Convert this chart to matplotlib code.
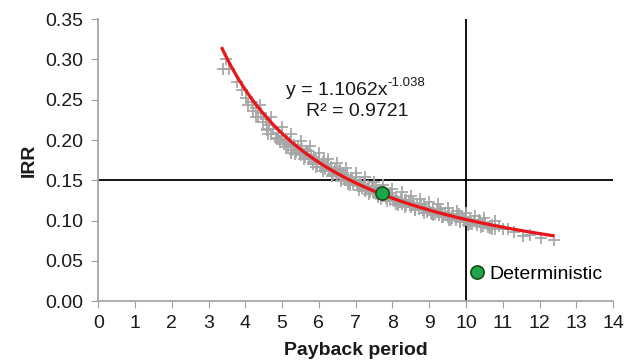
import matplotlib
matplotlib.use("Agg")
import matplotlib.pyplot as plt
import numpy as np

# Simulated runs: payback period (years) vs IRR
payback = [
    3.38, 3.55, 3.47, 3.78, 3.90, 4.02, 4.08, 4.18, 4.22, 4.30, 4.35, 4.42, 4.48, 4.55,
    4.58, 4.65, 4.70, 4.76, 4.82, 4.88, 4.93, 5.00, 5.05, 5.10, 5.16, 5.22, 5.27, 5.33,
    5.38, 5.44, 5.50, 5.55, 5.61, 5.66, 5.72, 5.78, 5.83, 5.88, 5.94, 6.00, 6.05, 6.11,
    6.16, 6.22, 6.27, 6.33, 6.38, 6.44, 6.50, 6.55, 6.61, 6.66, 6.72, 6.77, 6.83, 6.88,
    6.94, 7.00, 7.05, 7.11, 7.16, 7.22, 7.27, 7.33, 7.38, 7.44, 7.50, 7.55, 7.61, 7.66,
    7.72, 7.77, 7.83, 7.88, 7.94, 8.00, 8.05, 8.11, 8.16, 8.22, 8.27, 8.33, 8.38, 8.44,
    8.50, 8.55, 8.61, 8.66, 8.72, 8.77, 8.83, 8.88, 8.94, 9.00, 9.05, 9.11, 9.16, 9.22,
    9.27, 9.33, 9.38, 9.44, 9.50, 9.55, 9.61, 9.66, 9.72, 9.77, 9.83, 9.88, 9.94, 10.00,
    10.05, 10.11, 10.16, 10.22, 10.30, 10.38, 10.45, 10.52, 10.60, 10.70, 10.80, 10.90,
    11.00, 11.15, 11.30, 11.55, 11.75, 12.05, 12.40,
    4.62, 4.95, 5.25, 5.48, 5.70, 5.92, 6.14, 6.36, 6.58, 6.80, 7.02, 7.25, 7.48, 7.70,
    7.92, 8.15, 8.38, 8.60, 8.85, 9.08, 9.30, 9.55, 9.80, 10.05, 10.35, 10.65,
    4.40, 4.70, 5.00, 5.25, 5.50, 5.75, 6.00, 6.25, 6.50, 6.75, 7.00, 7.25, 7.50, 7.75,
    8.00, 8.25, 8.50, 8.75, 9.00, 9.25, 9.50, 9.75, 10.00, 10.25, 10.50, 10.80,
    4.30, 4.60, 4.85, 5.10, 5.35, 5.60, 5.85, 6.10, 6.35, 6.60, 6.85, 7.10, 7.35, 7.60,
    7.85, 8.10, 8.35, 8.60, 8.85, 9.10, 9.35, 9.60, 9.85, 10.10, 10.40, 10.70,
]
irr = [
    0.288, 0.288, 0.300, 0.272, 0.262, 0.252, 0.244, 0.247, 0.236, 0.240, 0.228, 0.233, 0.222, 0.226,
    0.214, 0.219, 0.208, 0.214, 0.203, 0.209, 0.199, 0.205, 0.195, 0.201, 0.192, 0.198, 0.188, 0.194,
    0.185, 0.192, 0.182, 0.189, 0.179, 0.186, 0.176, 0.182, 0.173, 0.179, 0.170, 0.176, 0.167, 0.173,
    0.164, 0.170, 0.161, 0.167, 0.158, 0.164, 0.156, 0.161, 0.153, 0.159, 0.150, 0.156, 0.148, 0.153,
    0.145, 0.151, 0.143, 0.148, 0.141, 0.146, 0.138, 0.143, 0.136, 0.141, 0.134, 0.139, 0.132, 0.137,
    0.130, 0.135, 0.128, 0.133, 0.126, 0.131, 0.124, 0.129, 0.122, 0.127, 0.121, 0.125, 0.119, 0.124,
    0.117, 0.122, 0.116, 0.120, 0.114, 0.119, 0.113, 0.117, 0.111, 0.116, 0.110, 0.114, 0.108, 0.113,
    0.107, 0.111, 0.105, 0.110, 0.104, 0.108, 0.103, 0.107, 0.101, 0.105, 0.100, 0.104, 0.099, 0.103,
    0.098, 0.101, 0.096, 0.100, 0.095, 0.098, 0.093, 0.097, 0.092, 0.095, 0.090, 0.093,
    0.089, 0.090, 0.086, 0.081, 0.082, 0.078, 0.076,
    0.208, 0.198, 0.184, 0.184, 0.186, 0.166, 0.175, 0.155, 0.163, 0.145, 0.154, 0.137, 0.142, 0.127,
    0.134, 0.119, 0.126, 0.113, 0.120, 0.108, 0.114, 0.101, 0.108, 0.095, 0.101, 0.091,
    0.243, 0.228, 0.216, 0.207, 0.199, 0.192, 0.184, 0.177, 0.171, 0.165, 0.159, 0.154, 0.148, 0.144,
    0.139, 0.135, 0.131, 0.127, 0.123, 0.120, 0.116, 0.112, 0.109, 0.106, 0.103, 0.099,
    0.228, 0.213, 0.201, 0.191, 0.183, 0.176, 0.170, 0.161, 0.155, 0.149, 0.144, 0.138, 0.133, 0.129,
    0.124, 0.120, 0.117, 0.113, 0.110, 0.107, 0.104, 0.101, 0.098, 0.096, 0.092, 0.089,
]

# Power-law trend line fitted to the runs
coef_a = 1.1062
coef_b = -1.038
r_squared = 0.9721
trend_range = (3.35, 12.4)

# Deterministic case
det_payback = [7.72]
det_irr = [0.134]

# Thresholds
payback_limit = 10
irr_hurdle = 0.15

x_ticks = list(range(0, 15))
y_ticks = [0.00, 0.05, 0.10, 0.15, 0.20, 0.25, 0.30, 0.35]

FONT = "Liberation Sans"
TXT = "#1a1a1a"

fig = plt.figure(figsize=(6.34, 3.62), dpi=100)
ax = fig.add_axes([0.155, 0.168, 0.812, 0.779])

ax.plot(payback, irr, linestyle="none", marker="+", markersize=8.5,
        markeredgewidth=1.25, color="#a6a6a6", zorder=2)

xt = np.linspace(trend_range[0], trend_range[1], 200)
ax.plot(xt, coef_a * xt ** coef_b, color="#e8151b", linewidth=2.3, zorder=3,
        solid_capstyle="butt")

ax.axvline(payback_limit, color="black", linewidth=1.3, zorder=1)
ax.axhline(irr_hurdle, color="black", linewidth=1.3, zorder=1)

ax.plot(det_payback, det_irr, linestyle="none", marker="o", markersize=9.5,
        markerfacecolor="#1ea64b", markeredgecolor="#1a4d1a", markeredgewidth=1.2,
        zorder=4, label="Deterministic")

# Trend-line equation with a plain-hyphen superscript
eq = ax.text(5.11, 0.261, f"y = {coef_a}x", fontsize=14, ha="left", va="center",
             family=FONT, color=TXT)
ax.annotate(f"{coef_b}", xy=(1.0, 0.62), xycoords=eq, fontsize=9.5,
            ha="left", va="bottom", family=FONT, color=TXT)
ax.text(5.65, 0.235, f"R² = {r_squared}", fontsize=14, ha="left", va="center",
        family=FONT, color=TXT)

ax.set_xlim(0, 14)
ax.set_ylim(0, 0.35)
ax.set_xticks(x_ticks)
ax.set_yticks(y_ticks)
ax.set_yticklabels([f"{v:.2f}" for v in y_ticks])

for s in ["top", "right"]:
    ax.spines[s].set_visible(False)
for s in ["left", "bottom"]:
    ax.spines[s].set_color("#a0a0a0")
    ax.spines[s].set_linewidth(1.2)

ax.tick_params(axis="both", direction="out", length=5, color="#a0a0a0",
               labelsize=14, labelcolor=TXT)
ax.tick_params(axis="y", pad=6)
ax.tick_params(axis="x", pad=5)
for lbl in ax.get_xticklabels() + ax.get_yticklabels():
    lbl.set_family(FONT)

ax.set_xlabel("Payback period", fontsize=14, fontweight="bold",
              family=FONT, labelpad=7, color=TXT)
ax.set_ylabel("IRR", fontsize=14, fontweight="bold",
              family=FONT, labelpad=5, color=TXT)

ax.legend(loc="center left", bbox_to_anchor=(10.1, 0.034),
          bbox_transform=ax.transData, frameon=False, borderpad=0,
          borderaxespad=0, handlelength=0.8, handletextpad=0.2,
          prop={"family": FONT, "size": 14})

fig.savefig("out.png", dpi=100, facecolor="white")
